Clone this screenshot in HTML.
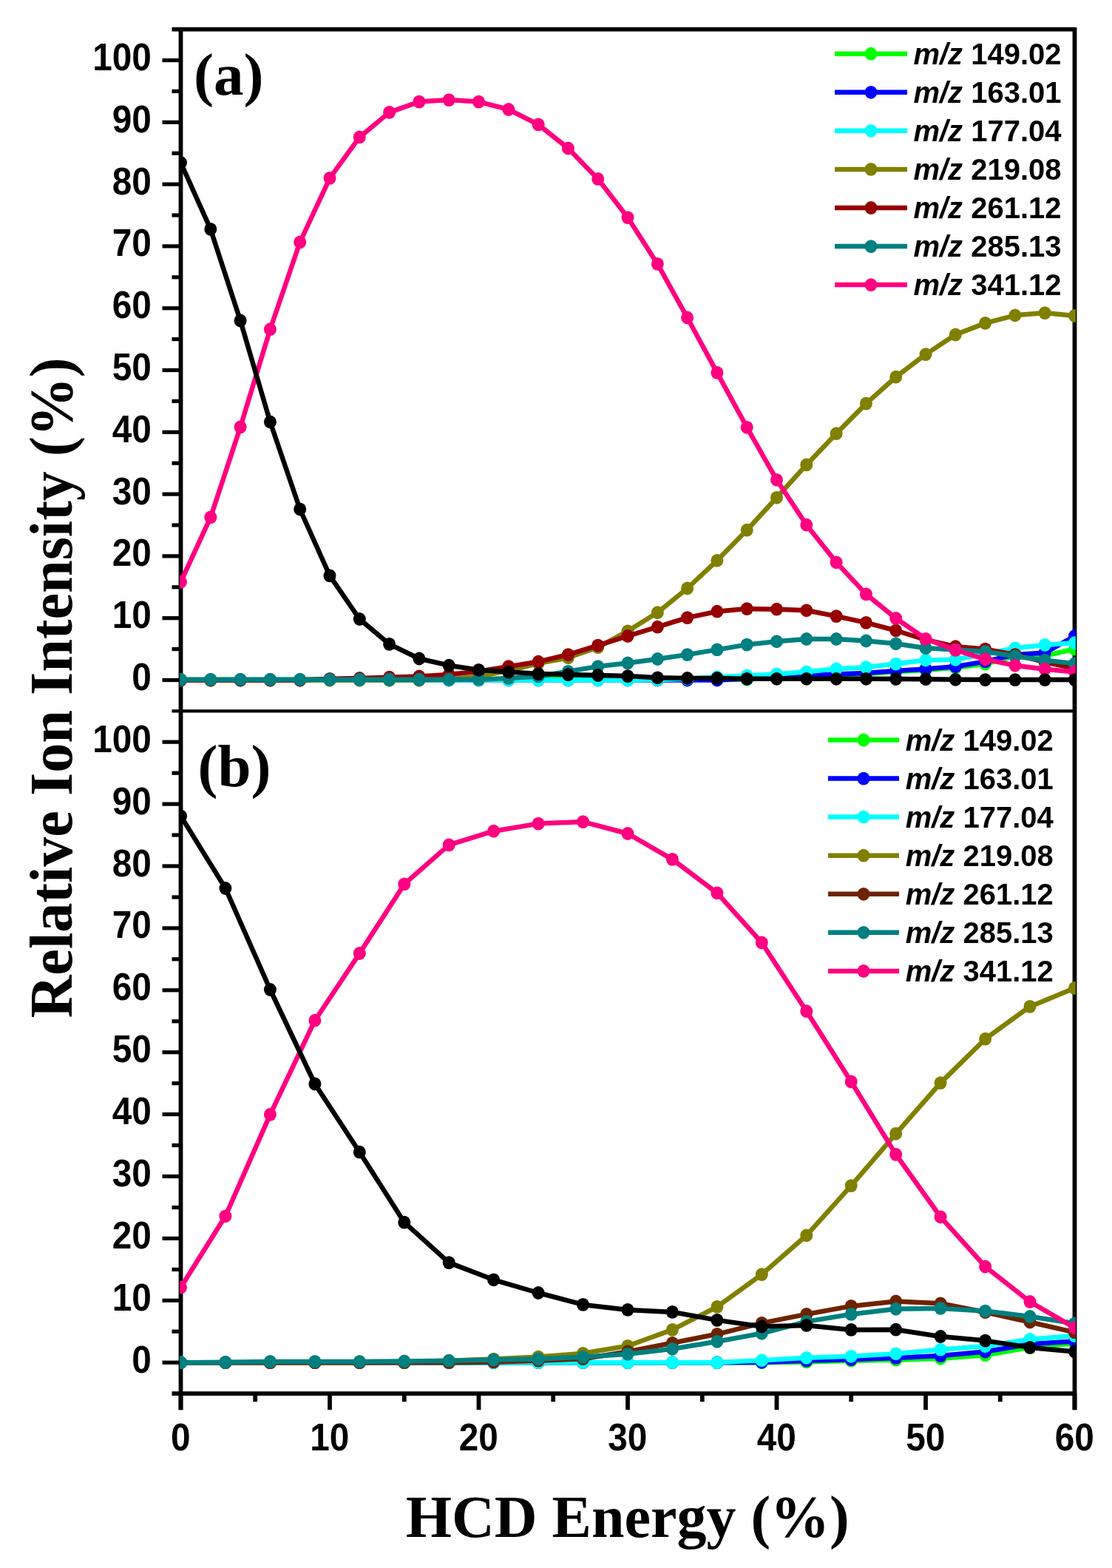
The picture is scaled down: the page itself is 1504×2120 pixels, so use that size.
<!DOCTYPE html>
<html><head><meta charset="utf-8"><title>HCD Energy</title>
<style>html,body{margin:0;padding:0;background:#fff;overflow:hidden}svg{display:block}</style></head>
<body>
<svg width="1504" height="2120" viewBox="0 0 1504 2120">
<rect width="1504" height="2120" fill="#fff"/>
<defs><clipPath id="ca"><rect x="243.1" y="38.2" width="1211.8" height="923.2"/></clipPath><clipPath id="cb"><rect x="243.1" y="961.4" width="1211.8" height="924.2"/></clipPath></defs>
<line x1="244.5" y1="37.1" x2="244.5" y2="1906.2" stroke="#000" stroke-width="5.8"/>
<line x1="1453.5" y1="37.1" x2="1453.5" y2="1906.2" stroke="#000" stroke-width="5.8"/>
<line x1="232.5" y1="39.6" x2="1453.5" y2="39.6" stroke="#000" stroke-width="5.8"/>
<line x1="232.5" y1="961.4" x2="1453.5" y2="961.4" stroke="#000" stroke-width="4.2"/>
<line x1="232.5" y1="1884.2" x2="1453.5" y2="1884.2" stroke="#000" stroke-width="5.8"/>
<line x1="219.5" y1="919.5" x2="244.5" y2="919.5" stroke="#000" stroke-width="5.2"/>
<line x1="232.5" y1="877.6" x2="244.5" y2="877.6" stroke="#000" stroke-width="5.2"/>
<line x1="219.5" y1="835.7" x2="244.5" y2="835.7" stroke="#000" stroke-width="5.2"/>
<line x1="232.5" y1="793.8" x2="244.5" y2="793.8" stroke="#000" stroke-width="5.2"/>
<line x1="219.5" y1="751.9" x2="244.5" y2="751.9" stroke="#000" stroke-width="5.2"/>
<line x1="232.5" y1="710" x2="244.5" y2="710" stroke="#000" stroke-width="5.2"/>
<line x1="219.5" y1="668.1" x2="244.5" y2="668.1" stroke="#000" stroke-width="5.2"/>
<line x1="232.5" y1="626.2" x2="244.5" y2="626.2" stroke="#000" stroke-width="5.2"/>
<line x1="219.5" y1="584.3" x2="244.5" y2="584.3" stroke="#000" stroke-width="5.2"/>
<line x1="232.5" y1="542.4" x2="244.5" y2="542.4" stroke="#000" stroke-width="5.2"/>
<line x1="219.5" y1="500.5" x2="244.5" y2="500.5" stroke="#000" stroke-width="5.2"/>
<line x1="232.5" y1="458.6" x2="244.5" y2="458.6" stroke="#000" stroke-width="5.2"/>
<line x1="219.5" y1="416.7" x2="244.5" y2="416.7" stroke="#000" stroke-width="5.2"/>
<line x1="232.5" y1="374.8" x2="244.5" y2="374.8" stroke="#000" stroke-width="5.2"/>
<line x1="219.5" y1="332.9" x2="244.5" y2="332.9" stroke="#000" stroke-width="5.2"/>
<line x1="232.5" y1="291" x2="244.5" y2="291" stroke="#000" stroke-width="5.2"/>
<line x1="219.5" y1="249.1" x2="244.5" y2="249.1" stroke="#000" stroke-width="5.2"/>
<line x1="232.5" y1="207.2" x2="244.5" y2="207.2" stroke="#000" stroke-width="5.2"/>
<line x1="219.5" y1="165.3" x2="244.5" y2="165.3" stroke="#000" stroke-width="5.2"/>
<line x1="232.5" y1="123.4" x2="244.5" y2="123.4" stroke="#000" stroke-width="5.2"/>
<line x1="219.5" y1="81.5" x2="244.5" y2="81.5" stroke="#000" stroke-width="5.2"/>
<line x1="219.5" y1="1842.2" x2="244.5" y2="1842.2" stroke="#000" stroke-width="5.2"/>
<line x1="232.5" y1="1800.2" x2="244.5" y2="1800.2" stroke="#000" stroke-width="5.2"/>
<line x1="219.5" y1="1758.3" x2="244.5" y2="1758.3" stroke="#000" stroke-width="5.2"/>
<line x1="232.5" y1="1716.4" x2="244.5" y2="1716.4" stroke="#000" stroke-width="5.2"/>
<line x1="219.5" y1="1674.4" x2="244.5" y2="1674.4" stroke="#000" stroke-width="5.2"/>
<line x1="232.5" y1="1632.5" x2="244.5" y2="1632.5" stroke="#000" stroke-width="5.2"/>
<line x1="219.5" y1="1590.5" x2="244.5" y2="1590.5" stroke="#000" stroke-width="5.2"/>
<line x1="232.5" y1="1548.5" x2="244.5" y2="1548.5" stroke="#000" stroke-width="5.2"/>
<line x1="219.5" y1="1506.6" x2="244.5" y2="1506.6" stroke="#000" stroke-width="5.2"/>
<line x1="232.5" y1="1464.7" x2="244.5" y2="1464.7" stroke="#000" stroke-width="5.2"/>
<line x1="219.5" y1="1422.7" x2="244.5" y2="1422.7" stroke="#000" stroke-width="5.2"/>
<line x1="232.5" y1="1380.8" x2="244.5" y2="1380.8" stroke="#000" stroke-width="5.2"/>
<line x1="219.5" y1="1338.8" x2="244.5" y2="1338.8" stroke="#000" stroke-width="5.2"/>
<line x1="232.5" y1="1296.8" x2="244.5" y2="1296.8" stroke="#000" stroke-width="5.2"/>
<line x1="219.5" y1="1254.9" x2="244.5" y2="1254.9" stroke="#000" stroke-width="5.2"/>
<line x1="232.5" y1="1213" x2="244.5" y2="1213" stroke="#000" stroke-width="5.2"/>
<line x1="219.5" y1="1171" x2="244.5" y2="1171" stroke="#000" stroke-width="5.2"/>
<line x1="232.5" y1="1129" x2="244.5" y2="1129" stroke="#000" stroke-width="5.2"/>
<line x1="219.5" y1="1087.1" x2="244.5" y2="1087.1" stroke="#000" stroke-width="5.2"/>
<line x1="232.5" y1="1045.2" x2="244.5" y2="1045.2" stroke="#000" stroke-width="5.2"/>
<line x1="219.5" y1="1003.2" x2="244.5" y2="1003.2" stroke="#000" stroke-width="5.2"/>
<line x1="244.5" y1="1884.2" x2="244.5" y2="1906.2" stroke="#000" stroke-width="5.8"/>
<line x1="345.2" y1="1884.2" x2="345.2" y2="1895.2" stroke="#000" stroke-width="5.8"/>
<line x1="446" y1="1884.2" x2="446" y2="1906.2" stroke="#000" stroke-width="5.8"/>
<line x1="546.8" y1="1884.2" x2="546.8" y2="1895.2" stroke="#000" stroke-width="5.8"/>
<line x1="647.5" y1="1884.2" x2="647.5" y2="1906.2" stroke="#000" stroke-width="5.8"/>
<line x1="748.2" y1="1884.2" x2="748.2" y2="1895.2" stroke="#000" stroke-width="5.8"/>
<line x1="849" y1="1884.2" x2="849" y2="1906.2" stroke="#000" stroke-width="5.8"/>
<line x1="949.8" y1="1884.2" x2="949.8" y2="1895.2" stroke="#000" stroke-width="5.8"/>
<line x1="1050.5" y1="1884.2" x2="1050.5" y2="1906.2" stroke="#000" stroke-width="5.8"/>
<line x1="1151.2" y1="1884.2" x2="1151.2" y2="1895.2" stroke="#000" stroke-width="5.8"/>
<line x1="1252" y1="1884.2" x2="1252" y2="1906.2" stroke="#000" stroke-width="5.8"/>
<line x1="1352.8" y1="1884.2" x2="1352.8" y2="1895.2" stroke="#000" stroke-width="5.8"/>
<line x1="1453.5" y1="1884.2" x2="1453.5" y2="1906.2" stroke="#000" stroke-width="5.8"/>
<g clip-path="url(#ca)">
<path d="M244.5,919.1 L284.8,919.1 L325.1,919.1 L365.4,919.1 L405.7,919.1 L446,919.1 L486.3,919.1 L526.6,919.1 L566.9,919.1 L607.2,919.1 L647.5,919.1 L687.8,919.1 L728.1,917.8 L768.4,917.8 L808.7,917.8 L849,917.8 L889.3,917.8 L929.6,917.8 L969.9,917.8 L1010.2,918.7 L1050.5,915.7 L1090.8,914.5 L1131.1,912.8 L1171.4,911.1 L1211.7,908.2 L1252,906.1 L1292.3,902.7 L1332.6,897.7 L1372.9,887.2 L1413.2,886.5 L1453.5,877.6" fill="none" stroke="#00FF00" stroke-width="6.5" stroke-linejoin="round"/>
<g fill="#00FF00"><ellipse cx="244.5" cy="919.1" rx="8.5" ry="8.9"/><ellipse cx="284.8" cy="919.1" rx="8.5" ry="8.9"/><ellipse cx="325.1" cy="919.1" rx="8.5" ry="8.9"/><ellipse cx="365.4" cy="919.1" rx="8.5" ry="8.9"/><ellipse cx="405.7" cy="919.1" rx="8.5" ry="8.9"/><ellipse cx="446" cy="919.1" rx="8.5" ry="8.9"/><ellipse cx="486.3" cy="919.1" rx="8.5" ry="8.9"/><ellipse cx="526.6" cy="919.1" rx="8.5" ry="8.9"/><ellipse cx="566.9" cy="919.1" rx="8.5" ry="8.9"/><ellipse cx="607.2" cy="919.1" rx="8.5" ry="8.9"/><ellipse cx="647.5" cy="919.1" rx="8.5" ry="8.9"/><ellipse cx="687.8" cy="919.1" rx="8.5" ry="8.9"/><ellipse cx="728.1" cy="917.8" rx="8.5" ry="8.9"/><ellipse cx="768.4" cy="917.8" rx="8.5" ry="8.9"/><ellipse cx="808.7" cy="917.8" rx="8.5" ry="8.9"/><ellipse cx="849" cy="917.8" rx="8.5" ry="8.9"/><ellipse cx="889.3" cy="917.8" rx="8.5" ry="8.9"/><ellipse cx="929.6" cy="917.8" rx="8.5" ry="8.9"/><ellipse cx="969.9" cy="917.8" rx="8.5" ry="8.9"/><ellipse cx="1010.2" cy="918.7" rx="8.5" ry="8.9"/><ellipse cx="1050.5" cy="915.7" rx="8.5" ry="8.9"/><ellipse cx="1090.8" cy="914.5" rx="8.5" ry="8.9"/><ellipse cx="1131.1" cy="912.8" rx="8.5" ry="8.9"/><ellipse cx="1171.4" cy="911.1" rx="8.5" ry="8.9"/><ellipse cx="1211.7" cy="908.2" rx="8.5" ry="8.9"/><ellipse cx="1252" cy="906.1" rx="8.5" ry="8.9"/><ellipse cx="1292.3" cy="902.7" rx="8.5" ry="8.9"/><ellipse cx="1332.6" cy="897.7" rx="8.5" ry="8.9"/><ellipse cx="1372.9" cy="887.2" rx="8.5" ry="8.9"/><ellipse cx="1413.2" cy="886.5" rx="8.5" ry="8.9"/><ellipse cx="1453.5" cy="877.6" rx="8.5" ry="8.9"/></g>
<path d="M244.5,919.5 L284.8,919.5 L325.1,919.5 L365.4,919.5 L405.7,919.5 L446,919.5 L486.3,919.5 L526.6,919.5 L566.9,919.5 L607.2,919.5 L647.5,919.5 L687.8,919.5 L728.1,919.5 L768.4,919.5 L808.7,919.5 L849,919.5 L889.3,919.5 L929.6,919.5 L969.9,919.5 L1010.2,917.8 L1050.5,914.5 L1090.8,913.2 L1131.1,911.5 L1171.4,909.9 L1211.7,906.9 L1252,904.4 L1292.3,901.2 L1332.6,894.4 L1372.9,885.2 L1413.2,882.6 L1453.5,860" fill="none" stroke="#0000FF" stroke-width="6.5" stroke-linejoin="round"/>
<g fill="#0000FF"><ellipse cx="244.5" cy="919.5" rx="8.5" ry="8.9"/><ellipse cx="284.8" cy="919.5" rx="8.5" ry="8.9"/><ellipse cx="325.1" cy="919.5" rx="8.5" ry="8.9"/><ellipse cx="365.4" cy="919.5" rx="8.5" ry="8.9"/><ellipse cx="405.7" cy="919.5" rx="8.5" ry="8.9"/><ellipse cx="446" cy="919.5" rx="8.5" ry="8.9"/><ellipse cx="486.3" cy="919.5" rx="8.5" ry="8.9"/><ellipse cx="526.6" cy="919.5" rx="8.5" ry="8.9"/><ellipse cx="566.9" cy="919.5" rx="8.5" ry="8.9"/><ellipse cx="607.2" cy="919.5" rx="8.5" ry="8.9"/><ellipse cx="647.5" cy="919.5" rx="8.5" ry="8.9"/><ellipse cx="687.8" cy="919.5" rx="8.5" ry="8.9"/><ellipse cx="728.1" cy="919.5" rx="8.5" ry="8.9"/><ellipse cx="768.4" cy="919.5" rx="8.5" ry="8.9"/><ellipse cx="808.7" cy="919.5" rx="8.5" ry="8.9"/><ellipse cx="849" cy="919.5" rx="8.5" ry="8.9"/><ellipse cx="889.3" cy="919.5" rx="8.5" ry="8.9"/><ellipse cx="929.6" cy="919.5" rx="8.5" ry="8.9"/><ellipse cx="969.9" cy="919.5" rx="8.5" ry="8.9"/><ellipse cx="1010.2" cy="917.8" rx="8.5" ry="8.9"/><ellipse cx="1050.5" cy="914.5" rx="8.5" ry="8.9"/><ellipse cx="1090.8" cy="913.2" rx="8.5" ry="8.9"/><ellipse cx="1131.1" cy="911.5" rx="8.5" ry="8.9"/><ellipse cx="1171.4" cy="909.9" rx="8.5" ry="8.9"/><ellipse cx="1211.7" cy="906.9" rx="8.5" ry="8.9"/><ellipse cx="1252" cy="904.4" rx="8.5" ry="8.9"/><ellipse cx="1292.3" cy="901.2" rx="8.5" ry="8.9"/><ellipse cx="1332.6" cy="894.4" rx="8.5" ry="8.9"/><ellipse cx="1372.9" cy="885.2" rx="8.5" ry="8.9"/><ellipse cx="1413.2" cy="882.6" rx="8.5" ry="8.9"/><ellipse cx="1453.5" cy="860" rx="8.5" ry="8.9"/></g>
<path d="M244.5,919.5 L284.8,919.5 L325.1,919.5 L365.4,919.5 L405.7,919.5 L446,919.5 L486.3,919.5 L526.6,919.5 L566.9,919.5 L607.2,919.5 L647.5,919.5 L687.8,919.5 L728.1,919.5 L768.4,919.5 L808.7,919.5 L849,919.5 L889.3,919.1 L929.6,917.8 L969.9,915.3 L1010.2,913.6 L1050.5,911.4 L1090.8,908.3 L1131.1,904.3 L1171.4,902.2 L1211.7,897.6 L1252,892.5 L1292.3,891.8 L1332.6,884.3 L1372.9,876.3 L1413.2,871.9 L1453.5,869.2" fill="none" stroke="#00FFFF" stroke-width="6.5" stroke-linejoin="round"/>
<g fill="#00FFFF"><ellipse cx="244.5" cy="919.5" rx="8.5" ry="8.9"/><ellipse cx="284.8" cy="919.5" rx="8.5" ry="8.9"/><ellipse cx="325.1" cy="919.5" rx="8.5" ry="8.9"/><ellipse cx="365.4" cy="919.5" rx="8.5" ry="8.9"/><ellipse cx="405.7" cy="919.5" rx="8.5" ry="8.9"/><ellipse cx="446" cy="919.5" rx="8.5" ry="8.9"/><ellipse cx="486.3" cy="919.5" rx="8.5" ry="8.9"/><ellipse cx="526.6" cy="919.5" rx="8.5" ry="8.9"/><ellipse cx="566.9" cy="919.5" rx="8.5" ry="8.9"/><ellipse cx="607.2" cy="919.5" rx="8.5" ry="8.9"/><ellipse cx="647.5" cy="919.5" rx="8.5" ry="8.9"/><ellipse cx="687.8" cy="919.5" rx="8.5" ry="8.9"/><ellipse cx="728.1" cy="919.5" rx="8.5" ry="8.9"/><ellipse cx="768.4" cy="919.5" rx="8.5" ry="8.9"/><ellipse cx="808.7" cy="919.5" rx="8.5" ry="8.9"/><ellipse cx="849" cy="919.5" rx="8.5" ry="8.9"/><ellipse cx="889.3" cy="919.1" rx="8.5" ry="8.9"/><ellipse cx="929.6" cy="917.8" rx="8.5" ry="8.9"/><ellipse cx="969.9" cy="915.3" rx="8.5" ry="8.9"/><ellipse cx="1010.2" cy="913.6" rx="8.5" ry="8.9"/><ellipse cx="1050.5" cy="911.4" rx="8.5" ry="8.9"/><ellipse cx="1090.8" cy="908.3" rx="8.5" ry="8.9"/><ellipse cx="1131.1" cy="904.3" rx="8.5" ry="8.9"/><ellipse cx="1171.4" cy="902.2" rx="8.5" ry="8.9"/><ellipse cx="1211.7" cy="897.6" rx="8.5" ry="8.9"/><ellipse cx="1252" cy="892.5" rx="8.5" ry="8.9"/><ellipse cx="1292.3" cy="891.8" rx="8.5" ry="8.9"/><ellipse cx="1332.6" cy="884.3" rx="8.5" ry="8.9"/><ellipse cx="1372.9" cy="876.3" rx="8.5" ry="8.9"/><ellipse cx="1413.2" cy="871.9" rx="8.5" ry="8.9"/><ellipse cx="1453.5" cy="869.2" rx="8.5" ry="8.9"/></g>
<path d="M244.5,919.5 L284.8,919.5 L325.1,919.5 L365.4,919.5 L405.7,919.5 L446,919.5 L486.3,919.5 L526.6,919.5 L566.9,919.5 L607.2,918.7 L647.5,914.5 L687.8,906.9 L728.1,896.9 L768.4,889.3 L808.7,875.1 L849,853.3 L889.3,828.2 L929.6,795.5 L969.9,757.8 L1010.2,716.7 L1050.5,672.8 L1090.8,628.4 L1131.1,586.2 L1171.4,545.6 L1211.7,509.7 L1252,479.1 L1292.3,452.5 L1332.6,436.9 L1372.9,426.3 L1413.2,423.1 L1453.5,426.9" fill="none" stroke="#808000" stroke-width="6.5" stroke-linejoin="round"/>
<g fill="#808000"><ellipse cx="244.5" cy="919.5" rx="8.5" ry="8.9"/><ellipse cx="284.8" cy="919.5" rx="8.5" ry="8.9"/><ellipse cx="325.1" cy="919.5" rx="8.5" ry="8.9"/><ellipse cx="365.4" cy="919.5" rx="8.5" ry="8.9"/><ellipse cx="405.7" cy="919.5" rx="8.5" ry="8.9"/><ellipse cx="446" cy="919.5" rx="8.5" ry="8.9"/><ellipse cx="486.3" cy="919.5" rx="8.5" ry="8.9"/><ellipse cx="526.6" cy="919.5" rx="8.5" ry="8.9"/><ellipse cx="566.9" cy="919.5" rx="8.5" ry="8.9"/><ellipse cx="607.2" cy="918.7" rx="8.5" ry="8.9"/><ellipse cx="647.5" cy="914.5" rx="8.5" ry="8.9"/><ellipse cx="687.8" cy="906.9" rx="8.5" ry="8.9"/><ellipse cx="728.1" cy="896.9" rx="8.5" ry="8.9"/><ellipse cx="768.4" cy="889.3" rx="8.5" ry="8.9"/><ellipse cx="808.7" cy="875.1" rx="8.5" ry="8.9"/><ellipse cx="849" cy="853.3" rx="8.5" ry="8.9"/><ellipse cx="889.3" cy="828.2" rx="8.5" ry="8.9"/><ellipse cx="929.6" cy="795.5" rx="8.5" ry="8.9"/><ellipse cx="969.9" cy="757.8" rx="8.5" ry="8.9"/><ellipse cx="1010.2" cy="716.7" rx="8.5" ry="8.9"/><ellipse cx="1050.5" cy="672.8" rx="8.5" ry="8.9"/><ellipse cx="1090.8" cy="628.4" rx="8.5" ry="8.9"/><ellipse cx="1131.1" cy="586.2" rx="8.5" ry="8.9"/><ellipse cx="1171.4" cy="545.6" rx="8.5" ry="8.9"/><ellipse cx="1211.7" cy="509.7" rx="8.5" ry="8.9"/><ellipse cx="1252" cy="479.1" rx="8.5" ry="8.9"/><ellipse cx="1292.3" cy="452.5" rx="8.5" ry="8.9"/><ellipse cx="1332.6" cy="436.9" rx="8.5" ry="8.9"/><ellipse cx="1372.9" cy="426.3" rx="8.5" ry="8.9"/><ellipse cx="1413.2" cy="423.1" rx="8.5" ry="8.9"/><ellipse cx="1453.5" cy="426.9" rx="8.5" ry="8.9"/></g>
<path d="M244.5,919.5 L284.8,919.5 L325.1,919.5 L365.4,919.5 L405.7,919.5 L446,917.8 L486.3,917 L526.6,915.7 L566.9,914.5 L607.2,912 L647.5,907.8 L687.8,901.1 L728.1,894.7 L768.4,885.1 L808.7,872.6 L849,860 L889.3,847.7 L929.6,835.1 L969.9,826.7 L1010.2,823.1 L1050.5,823.7 L1090.8,825.3 L1131.1,833.1 L1171.4,841.9 L1211.7,852.5 L1252,865 L1292.3,874.2 L1332.6,877.6 L1372.9,885.1 L1413.2,895.2 L1453.5,903.6" fill="none" stroke="#960000" stroke-width="6.5" stroke-linejoin="round"/>
<g fill="#960000"><ellipse cx="244.5" cy="919.5" rx="8.5" ry="8.9"/><ellipse cx="284.8" cy="919.5" rx="8.5" ry="8.9"/><ellipse cx="325.1" cy="919.5" rx="8.5" ry="8.9"/><ellipse cx="365.4" cy="919.5" rx="8.5" ry="8.9"/><ellipse cx="405.7" cy="919.5" rx="8.5" ry="8.9"/><ellipse cx="446" cy="917.8" rx="8.5" ry="8.9"/><ellipse cx="486.3" cy="917" rx="8.5" ry="8.9"/><ellipse cx="526.6" cy="915.7" rx="8.5" ry="8.9"/><ellipse cx="566.9" cy="914.5" rx="8.5" ry="8.9"/><ellipse cx="607.2" cy="912" rx="8.5" ry="8.9"/><ellipse cx="647.5" cy="907.8" rx="8.5" ry="8.9"/><ellipse cx="687.8" cy="901.1" rx="8.5" ry="8.9"/><ellipse cx="728.1" cy="894.7" rx="8.5" ry="8.9"/><ellipse cx="768.4" cy="885.1" rx="8.5" ry="8.9"/><ellipse cx="808.7" cy="872.6" rx="8.5" ry="8.9"/><ellipse cx="849" cy="860" rx="8.5" ry="8.9"/><ellipse cx="889.3" cy="847.7" rx="8.5" ry="8.9"/><ellipse cx="929.6" cy="835.1" rx="8.5" ry="8.9"/><ellipse cx="969.9" cy="826.7" rx="8.5" ry="8.9"/><ellipse cx="1010.2" cy="823.1" rx="8.5" ry="8.9"/><ellipse cx="1050.5" cy="823.7" rx="8.5" ry="8.9"/><ellipse cx="1090.8" cy="825.3" rx="8.5" ry="8.9"/><ellipse cx="1131.1" cy="833.1" rx="8.5" ry="8.9"/><ellipse cx="1171.4" cy="841.9" rx="8.5" ry="8.9"/><ellipse cx="1211.7" cy="852.5" rx="8.5" ry="8.9"/><ellipse cx="1252" cy="865" rx="8.5" ry="8.9"/><ellipse cx="1292.3" cy="874.2" rx="8.5" ry="8.9"/><ellipse cx="1332.6" cy="877.6" rx="8.5" ry="8.9"/><ellipse cx="1372.9" cy="885.1" rx="8.5" ry="8.9"/><ellipse cx="1413.2" cy="895.2" rx="8.5" ry="8.9"/><ellipse cx="1453.5" cy="903.6" rx="8.5" ry="8.9"/></g>
<path d="M244.5,918.7 L284.8,918.7 L325.1,918.7 L365.4,918.7 L405.7,918.7 L446,918.7 L486.3,918.7 L526.6,918.7 L566.9,918.7 L607.2,918.7 L647.5,918.7 L687.8,917 L728.1,914.5 L768.4,907.8 L808.7,901.1 L849,896.5 L889.3,891 L929.6,885.1 L969.9,878.4 L1010.2,871.6 L1050.5,867.3 L1090.8,864 L1131.1,864 L1171.4,866.5 L1211.7,870.3 L1252,876.3 L1292.3,878.4 L1332.6,881 L1372.9,887.2 L1413.2,892.7 L1453.5,897.2" fill="none" stroke="#008080" stroke-width="6.5" stroke-linejoin="round"/>
<g fill="#008080"><ellipse cx="244.5" cy="918.7" rx="8.5" ry="8.9"/><ellipse cx="284.8" cy="918.7" rx="8.5" ry="8.9"/><ellipse cx="325.1" cy="918.7" rx="8.5" ry="8.9"/><ellipse cx="365.4" cy="918.7" rx="8.5" ry="8.9"/><ellipse cx="405.7" cy="918.7" rx="8.5" ry="8.9"/><ellipse cx="446" cy="918.7" rx="8.5" ry="8.9"/><ellipse cx="486.3" cy="918.7" rx="8.5" ry="8.9"/><ellipse cx="526.6" cy="918.7" rx="8.5" ry="8.9"/><ellipse cx="566.9" cy="918.7" rx="8.5" ry="8.9"/><ellipse cx="607.2" cy="918.7" rx="8.5" ry="8.9"/><ellipse cx="647.5" cy="918.7" rx="8.5" ry="8.9"/><ellipse cx="687.8" cy="917" rx="8.5" ry="8.9"/><ellipse cx="728.1" cy="914.5" rx="8.5" ry="8.9"/><ellipse cx="768.4" cy="907.8" rx="8.5" ry="8.9"/><ellipse cx="808.7" cy="901.1" rx="8.5" ry="8.9"/><ellipse cx="849" cy="896.5" rx="8.5" ry="8.9"/><ellipse cx="889.3" cy="891" rx="8.5" ry="8.9"/><ellipse cx="929.6" cy="885.1" rx="8.5" ry="8.9"/><ellipse cx="969.9" cy="878.4" rx="8.5" ry="8.9"/><ellipse cx="1010.2" cy="871.6" rx="8.5" ry="8.9"/><ellipse cx="1050.5" cy="867.3" rx="8.5" ry="8.9"/><ellipse cx="1090.8" cy="864" rx="8.5" ry="8.9"/><ellipse cx="1131.1" cy="864" rx="8.5" ry="8.9"/><ellipse cx="1171.4" cy="866.5" rx="8.5" ry="8.9"/><ellipse cx="1211.7" cy="870.3" rx="8.5" ry="8.9"/><ellipse cx="1252" cy="876.3" rx="8.5" ry="8.9"/><ellipse cx="1292.3" cy="878.4" rx="8.5" ry="8.9"/><ellipse cx="1332.6" cy="881" rx="8.5" ry="8.9"/><ellipse cx="1372.9" cy="887.2" rx="8.5" ry="8.9"/><ellipse cx="1413.2" cy="892.7" rx="8.5" ry="8.9"/><ellipse cx="1453.5" cy="897.2" rx="8.5" ry="8.9"/></g>
<path d="M244.5,786.8 L284.8,699.4 L325.1,577.4 L365.4,445.2 L405.7,327.5 L446,240.9 L486.3,185.4 L526.6,151.9 L566.9,137.6 L607.2,135.1 L647.5,137.6 L687.8,148 L728.1,168.4 L768.4,200.5 L808.7,241.9 L849,294.1 L889.3,356.9 L929.6,429.5 L969.9,503.9 L1010.2,577.8 L1050.5,648.8 L1090.8,709.7 L1131.1,760.3 L1171.4,803.4 L1211.7,836 L1252,863.8 L1292.3,878.9 L1332.6,891.4 L1372.9,899.8 L1413.2,904.7 L1453.5,908.4" fill="none" stroke="#FF0080" stroke-width="6.5" stroke-linejoin="round"/>
<g fill="#FF0080"><ellipse cx="244.5" cy="786.8" rx="8.5" ry="8.9"/><ellipse cx="284.8" cy="699.4" rx="8.5" ry="8.9"/><ellipse cx="325.1" cy="577.4" rx="8.5" ry="8.9"/><ellipse cx="365.4" cy="445.2" rx="8.5" ry="8.9"/><ellipse cx="405.7" cy="327.5" rx="8.5" ry="8.9"/><ellipse cx="446" cy="240.9" rx="8.5" ry="8.9"/><ellipse cx="486.3" cy="185.4" rx="8.5" ry="8.9"/><ellipse cx="526.6" cy="151.9" rx="8.5" ry="8.9"/><ellipse cx="566.9" cy="137.6" rx="8.5" ry="8.9"/><ellipse cx="607.2" cy="135.1" rx="8.5" ry="8.9"/><ellipse cx="647.5" cy="137.6" rx="8.5" ry="8.9"/><ellipse cx="687.8" cy="148" rx="8.5" ry="8.9"/><ellipse cx="728.1" cy="168.4" rx="8.5" ry="8.9"/><ellipse cx="768.4" cy="200.5" rx="8.5" ry="8.9"/><ellipse cx="808.7" cy="241.9" rx="8.5" ry="8.9"/><ellipse cx="849" cy="294.1" rx="8.5" ry="8.9"/><ellipse cx="889.3" cy="356.9" rx="8.5" ry="8.9"/><ellipse cx="929.6" cy="429.5" rx="8.5" ry="8.9"/><ellipse cx="969.9" cy="503.9" rx="8.5" ry="8.9"/><ellipse cx="1010.2" cy="577.8" rx="8.5" ry="8.9"/><ellipse cx="1050.5" cy="648.8" rx="8.5" ry="8.9"/><ellipse cx="1090.8" cy="709.7" rx="8.5" ry="8.9"/><ellipse cx="1131.1" cy="760.3" rx="8.5" ry="8.9"/><ellipse cx="1171.4" cy="803.4" rx="8.5" ry="8.9"/><ellipse cx="1211.7" cy="836" rx="8.5" ry="8.9"/><ellipse cx="1252" cy="863.8" rx="8.5" ry="8.9"/><ellipse cx="1292.3" cy="878.9" rx="8.5" ry="8.9"/><ellipse cx="1332.6" cy="891.4" rx="8.5" ry="8.9"/><ellipse cx="1372.9" cy="899.8" rx="8.5" ry="8.9"/><ellipse cx="1413.2" cy="904.7" rx="8.5" ry="8.9"/><ellipse cx="1453.5" cy="908.4" rx="8.5" ry="8.9"/></g>
<path d="M244.5,220 L284.8,309.9 L325.1,433.5 L365.4,570.5 L405.7,688.5 L446,778.4 L486.3,837 L526.6,870.9 L566.9,890.5 L607.2,899.7 L647.5,905.8 L687.8,908.6 L728.1,911.1 L768.4,912.1 L808.7,913 L849,914.1 L889.3,916.3 L929.6,917 L969.9,917 L1010.2,917.8 L1050.5,917.8 L1090.8,917.8 L1131.1,917.8 L1171.4,917.8 L1211.7,918 L1252,918.2 L1292.3,918.8 L1332.6,919.1 L1372.9,919.1 L1413.2,919.1 L1453.5,919.1" fill="none" stroke="#000000" stroke-width="6.5" stroke-linejoin="round"/>
<g fill="#000000"><ellipse cx="244.5" cy="220" rx="8.5" ry="8.9"/><ellipse cx="284.8" cy="309.9" rx="8.5" ry="8.9"/><ellipse cx="325.1" cy="433.5" rx="8.5" ry="8.9"/><ellipse cx="365.4" cy="570.5" rx="8.5" ry="8.9"/><ellipse cx="405.7" cy="688.5" rx="8.5" ry="8.9"/><ellipse cx="446" cy="778.4" rx="8.5" ry="8.9"/><ellipse cx="486.3" cy="837" rx="8.5" ry="8.9"/><ellipse cx="526.6" cy="870.9" rx="8.5" ry="8.9"/><ellipse cx="566.9" cy="890.5" rx="8.5" ry="8.9"/><ellipse cx="607.2" cy="899.7" rx="8.5" ry="8.9"/><ellipse cx="647.5" cy="905.8" rx="8.5" ry="8.9"/><ellipse cx="687.8" cy="908.6" rx="8.5" ry="8.9"/><ellipse cx="728.1" cy="911.1" rx="8.5" ry="8.9"/><ellipse cx="768.4" cy="912.1" rx="8.5" ry="8.9"/><ellipse cx="808.7" cy="913" rx="8.5" ry="8.9"/><ellipse cx="849" cy="914.1" rx="8.5" ry="8.9"/><ellipse cx="889.3" cy="916.3" rx="8.5" ry="8.9"/><ellipse cx="929.6" cy="917" rx="8.5" ry="8.9"/><ellipse cx="969.9" cy="917" rx="8.5" ry="8.9"/><ellipse cx="1010.2" cy="917.8" rx="8.5" ry="8.9"/><ellipse cx="1050.5" cy="917.8" rx="8.5" ry="8.9"/><ellipse cx="1090.8" cy="917.8" rx="8.5" ry="8.9"/><ellipse cx="1131.1" cy="917.8" rx="8.5" ry="8.9"/><ellipse cx="1171.4" cy="917.8" rx="8.5" ry="8.9"/><ellipse cx="1211.7" cy="918" rx="8.5" ry="8.9"/><ellipse cx="1252" cy="918.2" rx="8.5" ry="8.9"/><ellipse cx="1292.3" cy="918.8" rx="8.5" ry="8.9"/><ellipse cx="1332.6" cy="919.1" rx="8.5" ry="8.9"/><ellipse cx="1372.9" cy="919.1" rx="8.5" ry="8.9"/><ellipse cx="1413.2" cy="919.1" rx="8.5" ry="8.9"/><ellipse cx="1453.5" cy="919.1" rx="8.5" ry="8.9"/></g>
</g>
<g clip-path="url(#cb)">
<path d="M244.5,1842.2 L304.9,1842.2 L365.4,1842.2 L425.9,1842.2 L486.3,1842.2 L546.8,1842.2 L607.2,1842.2 L667.6,1842.2 L728.1,1842.2 L788.5,1842.2 L849,1842.2 L909.4,1842.2 L969.9,1842.2 L1030.3,1842.2 L1090.8,1841.4 L1151.2,1839.7 L1211.7,1838.7 L1272.1,1836.8 L1332.6,1832.2 L1393,1821.9 L1453.5,1816.3" fill="none" stroke="#00FF00" stroke-width="6.5" stroke-linejoin="round"/>
<g fill="#00FF00"><ellipse cx="244.5" cy="1842.2" rx="8.5" ry="8.9"/><ellipse cx="304.9" cy="1842.2" rx="8.5" ry="8.9"/><ellipse cx="365.4" cy="1842.2" rx="8.5" ry="8.9"/><ellipse cx="425.9" cy="1842.2" rx="8.5" ry="8.9"/><ellipse cx="486.3" cy="1842.2" rx="8.5" ry="8.9"/><ellipse cx="546.8" cy="1842.2" rx="8.5" ry="8.9"/><ellipse cx="607.2" cy="1842.2" rx="8.5" ry="8.9"/><ellipse cx="667.6" cy="1842.2" rx="8.5" ry="8.9"/><ellipse cx="728.1" cy="1842.2" rx="8.5" ry="8.9"/><ellipse cx="788.5" cy="1842.2" rx="8.5" ry="8.9"/><ellipse cx="849" cy="1842.2" rx="8.5" ry="8.9"/><ellipse cx="909.4" cy="1842.2" rx="8.5" ry="8.9"/><ellipse cx="969.9" cy="1842.2" rx="8.5" ry="8.9"/><ellipse cx="1030.3" cy="1842.2" rx="8.5" ry="8.9"/><ellipse cx="1090.8" cy="1841.4" rx="8.5" ry="8.9"/><ellipse cx="1151.2" cy="1839.7" rx="8.5" ry="8.9"/><ellipse cx="1211.7" cy="1838.7" rx="8.5" ry="8.9"/><ellipse cx="1272.1" cy="1836.8" rx="8.5" ry="8.9"/><ellipse cx="1332.6" cy="1832.2" rx="8.5" ry="8.9"/><ellipse cx="1393" cy="1821.9" rx="8.5" ry="8.9"/><ellipse cx="1453.5" cy="1816.3" rx="8.5" ry="8.9"/></g>
<path d="M244.5,1842.2 L304.9,1842.2 L365.4,1842.2 L425.9,1842.2 L486.3,1842.2 L546.8,1842.2 L607.2,1842.2 L667.6,1842.2 L728.1,1842.2 L788.5,1842.2 L849,1842.2 L909.4,1842.2 L969.9,1842.2 L1030.3,1841.8 L1090.8,1839.7 L1151.2,1838 L1211.7,1835.9 L1272.1,1833.1 L1332.6,1827.5 L1393,1817.3 L1453.5,1813.5" fill="none" stroke="#0000FF" stroke-width="6.5" stroke-linejoin="round"/>
<g fill="#0000FF"><ellipse cx="244.5" cy="1842.2" rx="8.5" ry="8.9"/><ellipse cx="304.9" cy="1842.2" rx="8.5" ry="8.9"/><ellipse cx="365.4" cy="1842.2" rx="8.5" ry="8.9"/><ellipse cx="425.9" cy="1842.2" rx="8.5" ry="8.9"/><ellipse cx="486.3" cy="1842.2" rx="8.5" ry="8.9"/><ellipse cx="546.8" cy="1842.2" rx="8.5" ry="8.9"/><ellipse cx="607.2" cy="1842.2" rx="8.5" ry="8.9"/><ellipse cx="667.6" cy="1842.2" rx="8.5" ry="8.9"/><ellipse cx="728.1" cy="1842.2" rx="8.5" ry="8.9"/><ellipse cx="788.5" cy="1842.2" rx="8.5" ry="8.9"/><ellipse cx="849" cy="1842.2" rx="8.5" ry="8.9"/><ellipse cx="909.4" cy="1842.2" rx="8.5" ry="8.9"/><ellipse cx="969.9" cy="1842.2" rx="8.5" ry="8.9"/><ellipse cx="1030.3" cy="1841.8" rx="8.5" ry="8.9"/><ellipse cx="1090.8" cy="1839.7" rx="8.5" ry="8.9"/><ellipse cx="1151.2" cy="1838" rx="8.5" ry="8.9"/><ellipse cx="1211.7" cy="1835.9" rx="8.5" ry="8.9"/><ellipse cx="1272.1" cy="1833.1" rx="8.5" ry="8.9"/><ellipse cx="1332.6" cy="1827.5" rx="8.5" ry="8.9"/><ellipse cx="1393" cy="1817.3" rx="8.5" ry="8.9"/><ellipse cx="1453.5" cy="1813.5" rx="8.5" ry="8.9"/></g>
<path d="M244.5,1842.2 L304.9,1842.2 L365.4,1842.2 L425.9,1842.2 L486.3,1842.2 L546.8,1842.2 L607.2,1842.2 L667.6,1842.2 L728.1,1842.2 L788.5,1842.2 L849,1842.2 L909.4,1842.2 L969.9,1842.2 L1030.3,1839.2 L1090.8,1835.8 L1151.2,1833.8 L1211.7,1830.3 L1272.1,1824.7 L1332.6,1820.1 L1393,1810.8 L1453.5,1806.1" fill="none" stroke="#00FFFF" stroke-width="6.5" stroke-linejoin="round"/>
<g fill="#00FFFF"><ellipse cx="244.5" cy="1842.2" rx="8.5" ry="8.9"/><ellipse cx="304.9" cy="1842.2" rx="8.5" ry="8.9"/><ellipse cx="365.4" cy="1842.2" rx="8.5" ry="8.9"/><ellipse cx="425.9" cy="1842.2" rx="8.5" ry="8.9"/><ellipse cx="486.3" cy="1842.2" rx="8.5" ry="8.9"/><ellipse cx="546.8" cy="1842.2" rx="8.5" ry="8.9"/><ellipse cx="607.2" cy="1842.2" rx="8.5" ry="8.9"/><ellipse cx="667.6" cy="1842.2" rx="8.5" ry="8.9"/><ellipse cx="728.1" cy="1842.2" rx="8.5" ry="8.9"/><ellipse cx="788.5" cy="1842.2" rx="8.5" ry="8.9"/><ellipse cx="849" cy="1842.2" rx="8.5" ry="8.9"/><ellipse cx="909.4" cy="1842.2" rx="8.5" ry="8.9"/><ellipse cx="969.9" cy="1842.2" rx="8.5" ry="8.9"/><ellipse cx="1030.3" cy="1839.2" rx="8.5" ry="8.9"/><ellipse cx="1090.8" cy="1835.8" rx="8.5" ry="8.9"/><ellipse cx="1151.2" cy="1833.8" rx="8.5" ry="8.9"/><ellipse cx="1211.7" cy="1830.3" rx="8.5" ry="8.9"/><ellipse cx="1272.1" cy="1824.7" rx="8.5" ry="8.9"/><ellipse cx="1332.6" cy="1820.1" rx="8.5" ry="8.9"/><ellipse cx="1393" cy="1810.8" rx="8.5" ry="8.9"/><ellipse cx="1453.5" cy="1806.1" rx="8.5" ry="8.9"/></g>
<path d="M244.5,1842.2 L304.9,1842.2 L365.4,1842.2 L425.9,1842.2 L486.3,1842.2 L546.8,1841.4 L607.2,1839.7 L667.6,1837.6 L728.1,1834.6 L788.5,1829.8 L849,1819.8 L909.4,1797.9 L969.9,1766.9 L1030.3,1723.1 L1090.8,1670.3 L1151.2,1603.1 L1211.7,1532.8 L1272.1,1464.1 L1332.6,1404.7 L1393,1360.9 L1453.5,1335.9" fill="none" stroke="#808000" stroke-width="6.5" stroke-linejoin="round"/>
<g fill="#808000"><ellipse cx="244.5" cy="1842.2" rx="8.5" ry="8.9"/><ellipse cx="304.9" cy="1842.2" rx="8.5" ry="8.9"/><ellipse cx="365.4" cy="1842.2" rx="8.5" ry="8.9"/><ellipse cx="425.9" cy="1842.2" rx="8.5" ry="8.9"/><ellipse cx="486.3" cy="1842.2" rx="8.5" ry="8.9"/><ellipse cx="546.8" cy="1841.4" rx="8.5" ry="8.9"/><ellipse cx="607.2" cy="1839.7" rx="8.5" ry="8.9"/><ellipse cx="667.6" cy="1837.6" rx="8.5" ry="8.9"/><ellipse cx="728.1" cy="1834.6" rx="8.5" ry="8.9"/><ellipse cx="788.5" cy="1829.8" rx="8.5" ry="8.9"/><ellipse cx="849" cy="1819.8" rx="8.5" ry="8.9"/><ellipse cx="909.4" cy="1797.9" rx="8.5" ry="8.9"/><ellipse cx="969.9" cy="1766.9" rx="8.5" ry="8.9"/><ellipse cx="1030.3" cy="1723.1" rx="8.5" ry="8.9"/><ellipse cx="1090.8" cy="1670.3" rx="8.5" ry="8.9"/><ellipse cx="1151.2" cy="1603.1" rx="8.5" ry="8.9"/><ellipse cx="1211.7" cy="1532.8" rx="8.5" ry="8.9"/><ellipse cx="1272.1" cy="1464.1" rx="8.5" ry="8.9"/><ellipse cx="1332.6" cy="1404.7" rx="8.5" ry="8.9"/><ellipse cx="1393" cy="1360.9" rx="8.5" ry="8.9"/><ellipse cx="1453.5" cy="1335.9" rx="8.5" ry="8.9"/></g>
<path d="M244.5,1842.2 L304.9,1842.2 L365.4,1842.2 L425.9,1842.2 L486.3,1842.2 L546.8,1842.2 L607.2,1842.2 L667.6,1841.4 L728.1,1839.7 L788.5,1837.2 L849,1827.5 L909.4,1815.8 L969.9,1803.8 L1030.3,1788.9 L1090.8,1776.9 L1151.2,1765.9 L1211.7,1759.5 L1272.1,1762.3 L1332.6,1774.2 L1393,1787.5 L1453.5,1801.4" fill="none" stroke="#6E2300" stroke-width="6.5" stroke-linejoin="round"/>
<g fill="#6E2300"><ellipse cx="244.5" cy="1842.2" rx="8.5" ry="8.9"/><ellipse cx="304.9" cy="1842.2" rx="8.5" ry="8.9"/><ellipse cx="365.4" cy="1842.2" rx="8.5" ry="8.9"/><ellipse cx="425.9" cy="1842.2" rx="8.5" ry="8.9"/><ellipse cx="486.3" cy="1842.2" rx="8.5" ry="8.9"/><ellipse cx="546.8" cy="1842.2" rx="8.5" ry="8.9"/><ellipse cx="607.2" cy="1842.2" rx="8.5" ry="8.9"/><ellipse cx="667.6" cy="1841.4" rx="8.5" ry="8.9"/><ellipse cx="728.1" cy="1839.7" rx="8.5" ry="8.9"/><ellipse cx="788.5" cy="1837.2" rx="8.5" ry="8.9"/><ellipse cx="849" cy="1827.5" rx="8.5" ry="8.9"/><ellipse cx="909.4" cy="1815.8" rx="8.5" ry="8.9"/><ellipse cx="969.9" cy="1803.8" rx="8.5" ry="8.9"/><ellipse cx="1030.3" cy="1788.9" rx="8.5" ry="8.9"/><ellipse cx="1090.8" cy="1776.9" rx="8.5" ry="8.9"/><ellipse cx="1151.2" cy="1765.9" rx="8.5" ry="8.9"/><ellipse cx="1211.7" cy="1759.5" rx="8.5" ry="8.9"/><ellipse cx="1272.1" cy="1762.3" rx="8.5" ry="8.9"/><ellipse cx="1332.6" cy="1774.2" rx="8.5" ry="8.9"/><ellipse cx="1393" cy="1787.5" rx="8.5" ry="8.9"/><ellipse cx="1453.5" cy="1801.4" rx="8.5" ry="8.9"/></g>
<path d="M244.5,1842.2 L304.9,1841.8 L365.4,1840.9 L425.9,1840.9 L486.3,1840.9 L546.8,1840.5 L607.2,1839.7 L667.6,1838.4 L728.1,1837.4 L788.5,1834.8 L849,1830.8 L909.4,1823.8 L969.9,1813.8 L1030.3,1802.8 L1090.8,1786.9 L1151.2,1776.9 L1211.7,1769.8 L1272.1,1768.9 L1332.6,1772.6 L1393,1780 L1453.5,1789.3" fill="none" stroke="#008080" stroke-width="6.5" stroke-linejoin="round"/>
<g fill="#008080"><ellipse cx="244.5" cy="1842.2" rx="8.5" ry="8.9"/><ellipse cx="304.9" cy="1841.8" rx="8.5" ry="8.9"/><ellipse cx="365.4" cy="1840.9" rx="8.5" ry="8.9"/><ellipse cx="425.9" cy="1840.9" rx="8.5" ry="8.9"/><ellipse cx="486.3" cy="1840.9" rx="8.5" ry="8.9"/><ellipse cx="546.8" cy="1840.5" rx="8.5" ry="8.9"/><ellipse cx="607.2" cy="1839.7" rx="8.5" ry="8.9"/><ellipse cx="667.6" cy="1838.4" rx="8.5" ry="8.9"/><ellipse cx="728.1" cy="1837.4" rx="8.5" ry="8.9"/><ellipse cx="788.5" cy="1834.8" rx="8.5" ry="8.9"/><ellipse cx="849" cy="1830.8" rx="8.5" ry="8.9"/><ellipse cx="909.4" cy="1823.8" rx="8.5" ry="8.9"/><ellipse cx="969.9" cy="1813.8" rx="8.5" ry="8.9"/><ellipse cx="1030.3" cy="1802.8" rx="8.5" ry="8.9"/><ellipse cx="1090.8" cy="1786.9" rx="8.5" ry="8.9"/><ellipse cx="1151.2" cy="1776.9" rx="8.5" ry="8.9"/><ellipse cx="1211.7" cy="1769.8" rx="8.5" ry="8.9"/><ellipse cx="1272.1" cy="1768.9" rx="8.5" ry="8.9"/><ellipse cx="1332.6" cy="1772.6" rx="8.5" ry="8.9"/><ellipse cx="1393" cy="1780" rx="8.5" ry="8.9"/><ellipse cx="1453.5" cy="1789.3" rx="8.5" ry="8.9"/></g>
<path d="M244.5,1740.6 L304.9,1644.3 L365.4,1506.9 L425.9,1379.7 L486.3,1289 L546.8,1195.4 L607.2,1142.4 L667.6,1123.7 L728.1,1113.6 L788.5,1111.1 L849,1127 L909.4,1161.9 L969.9,1207.4 L1030.3,1274.5 L1090.8,1367.2 L1151.2,1462.5 L1211.7,1560.9 L1272.1,1645.3 L1332.6,1712.5 L1393,1760 L1453.5,1795.3" fill="none" stroke="#FF0080" stroke-width="6.5" stroke-linejoin="round"/>
<g fill="#FF0080"><ellipse cx="244.5" cy="1740.6" rx="8.5" ry="8.9"/><ellipse cx="304.9" cy="1644.3" rx="8.5" ry="8.9"/><ellipse cx="365.4" cy="1506.9" rx="8.5" ry="8.9"/><ellipse cx="425.9" cy="1379.7" rx="8.5" ry="8.9"/><ellipse cx="486.3" cy="1289" rx="8.5" ry="8.9"/><ellipse cx="546.8" cy="1195.4" rx="8.5" ry="8.9"/><ellipse cx="607.2" cy="1142.4" rx="8.5" ry="8.9"/><ellipse cx="667.6" cy="1123.7" rx="8.5" ry="8.9"/><ellipse cx="728.1" cy="1113.6" rx="8.5" ry="8.9"/><ellipse cx="788.5" cy="1111.1" rx="8.5" ry="8.9"/><ellipse cx="849" cy="1127" rx="8.5" ry="8.9"/><ellipse cx="909.4" cy="1161.9" rx="8.5" ry="8.9"/><ellipse cx="969.9" cy="1207.4" rx="8.5" ry="8.9"/><ellipse cx="1030.3" cy="1274.5" rx="8.5" ry="8.9"/><ellipse cx="1090.8" cy="1367.2" rx="8.5" ry="8.9"/><ellipse cx="1151.2" cy="1462.5" rx="8.5" ry="8.9"/><ellipse cx="1211.7" cy="1560.9" rx="8.5" ry="8.9"/><ellipse cx="1272.1" cy="1645.3" rx="8.5" ry="8.9"/><ellipse cx="1332.6" cy="1712.5" rx="8.5" ry="8.9"/><ellipse cx="1393" cy="1760" rx="8.5" ry="8.9"/><ellipse cx="1453.5" cy="1795.3" rx="8.5" ry="8.9"/></g>
<path d="M244.5,1103.3 L304.9,1201 L365.4,1338 L425.9,1465.5 L486.3,1557.7 L546.8,1652.7 L607.2,1707.1 L667.6,1730.3 L728.1,1748 L788.5,1763.9 L849,1770.9 L909.4,1773.9 L969.9,1784.9 L1030.3,1793.5 L1090.8,1791.9 L1151.2,1797.9 L1211.7,1797.7 L1272.1,1807 L1332.6,1812.6 L1393,1821.9 L1453.5,1827.5" fill="none" stroke="#000000" stroke-width="6.5" stroke-linejoin="round"/>
<g fill="#000000"><ellipse cx="244.5" cy="1103.3" rx="8.5" ry="8.9"/><ellipse cx="304.9" cy="1201" rx="8.5" ry="8.9"/><ellipse cx="365.4" cy="1338" rx="8.5" ry="8.9"/><ellipse cx="425.9" cy="1465.5" rx="8.5" ry="8.9"/><ellipse cx="486.3" cy="1557.7" rx="8.5" ry="8.9"/><ellipse cx="546.8" cy="1652.7" rx="8.5" ry="8.9"/><ellipse cx="607.2" cy="1707.1" rx="8.5" ry="8.9"/><ellipse cx="667.6" cy="1730.3" rx="8.5" ry="8.9"/><ellipse cx="728.1" cy="1748" rx="8.5" ry="8.9"/><ellipse cx="788.5" cy="1763.9" rx="8.5" ry="8.9"/><ellipse cx="849" cy="1770.9" rx="8.5" ry="8.9"/><ellipse cx="909.4" cy="1773.9" rx="8.5" ry="8.9"/><ellipse cx="969.9" cy="1784.9" rx="8.5" ry="8.9"/><ellipse cx="1030.3" cy="1793.5" rx="8.5" ry="8.9"/><ellipse cx="1090.8" cy="1791.9" rx="8.5" ry="8.9"/><ellipse cx="1151.2" cy="1797.9" rx="8.5" ry="8.9"/><ellipse cx="1211.7" cy="1797.7" rx="8.5" ry="8.9"/><ellipse cx="1272.1" cy="1807" rx="8.5" ry="8.9"/><ellipse cx="1332.6" cy="1812.6" rx="8.5" ry="8.9"/><ellipse cx="1393" cy="1821.9" rx="8.5" ry="8.9"/><ellipse cx="1453.5" cy="1827.5" rx="8.5" ry="8.9"/></g>
</g>
<g font-family="Liberation Sans, Arial, sans-serif" font-weight="bold" font-size="50" fill="#000">
<text transform="translate(204.9,933) scale(0.955,1.045)" text-anchor="end">0</text>
<text transform="translate(204.9,849.2) scale(0.955,1.045)" text-anchor="end">10</text>
<text transform="translate(204.9,765.4) scale(0.955,1.045)" text-anchor="end">20</text>
<text transform="translate(204.9,681.5) scale(0.955,1.045)" text-anchor="end">30</text>
<text transform="translate(204.9,597.8) scale(0.955,1.045)" text-anchor="end">40</text>
<text transform="translate(204.9,513.9) scale(0.955,1.045)" text-anchor="end">50</text>
<text transform="translate(204.9,430.1) scale(0.955,1.045)" text-anchor="end">60</text>
<text transform="translate(204.9,346.3) scale(0.955,1.045)" text-anchor="end">70</text>
<text transform="translate(204.9,262.5) scale(0.955,1.045)" text-anchor="end">80</text>
<text transform="translate(204.9,178.7) scale(0.955,1.045)" text-anchor="end">90</text>
<text transform="translate(204.9,94.9) scale(0.955,1.045)" text-anchor="end">100</text>
<text transform="translate(204.9,1855.7) scale(0.955,1.045)" text-anchor="end">0</text>
<text transform="translate(204.9,1771.8) scale(0.955,1.045)" text-anchor="end">10</text>
<text transform="translate(204.9,1687.9) scale(0.955,1.045)" text-anchor="end">20</text>
<text transform="translate(204.9,1604) scale(0.955,1.045)" text-anchor="end">30</text>
<text transform="translate(204.9,1520) scale(0.955,1.045)" text-anchor="end">40</text>
<text transform="translate(204.9,1436.2) scale(0.955,1.045)" text-anchor="end">50</text>
<text transform="translate(204.9,1352.2) scale(0.955,1.045)" text-anchor="end">60</text>
<text transform="translate(204.9,1268.4) scale(0.955,1.045)" text-anchor="end">70</text>
<text transform="translate(204.9,1184.5) scale(0.955,1.045)" text-anchor="end">80</text>
<text transform="translate(204.9,1100.5) scale(0.955,1.045)" text-anchor="end">90</text>
<text transform="translate(204.9,1016.7) scale(0.955,1.045)" text-anchor="end">100</text>
<text transform="translate(244.2,1961) scale(0.955,1.045)" text-anchor="middle">0</text>
<text transform="translate(445.7,1961) scale(0.955,1.045)" text-anchor="middle">10</text>
<text transform="translate(647.2,1961) scale(0.955,1.045)" text-anchor="middle">20</text>
<text transform="translate(848.7,1961) scale(0.955,1.045)" text-anchor="middle">30</text>
<text transform="translate(1050.2,1961) scale(0.955,1.045)" text-anchor="middle">40</text>
<text transform="translate(1251.7,1961) scale(0.955,1.045)" text-anchor="middle">50</text>
<text transform="translate(1453.2,1961) scale(0.955,1.045)" text-anchor="middle">60</text>
</g>
<g font-family="Liberation Serif, Times New Roman, serif" font-weight="bold" fill="#000">
<text x="848.8" y="2078" text-anchor="middle" font-size="80">HCD Energy (%)</text>
<text transform="translate(97,930) rotate(-90) scale(0.978,1)" text-anchor="middle" font-size="82">Relative Ion Intensity (%)</text>
<text x="262" y="127.5" font-size="81">(a)</text>
<text x="267.5" y="1062.5" font-size="81">(b)</text>
</g>
<g font-family="Liberation Sans, Arial, sans-serif" font-weight="bold" font-size="40" fill="#000">
<line x1="1129" y1="72.7" x2="1227" y2="72.7" stroke="#00FF00" stroke-width="6.5"/><ellipse cx="1178" cy="72.7" rx="8.5" ry="8.9" fill="#00FF00"/><text x="1235.4" y="86.8"><tspan font-style="italic">m/z</tspan> 149.02</text>
<line x1="1129" y1="124.8" x2="1227" y2="124.8" stroke="#0000FF" stroke-width="6.5"/><ellipse cx="1178" cy="124.8" rx="8.5" ry="8.9" fill="#0000FF"/><text x="1235.4" y="138.9"><tspan font-style="italic">m/z</tspan> 163.01</text>
<line x1="1129" y1="176.8" x2="1227" y2="176.8" stroke="#00FFFF" stroke-width="6.5"/><ellipse cx="1178" cy="176.8" rx="8.5" ry="8.9" fill="#00FFFF"/><text x="1235.4" y="190.9"><tspan font-style="italic">m/z</tspan> 177.04</text>
<line x1="1129" y1="228.9" x2="1227" y2="228.9" stroke="#808000" stroke-width="6.5"/><ellipse cx="1178" cy="228.9" rx="8.5" ry="8.9" fill="#808000"/><text x="1235.4" y="243"><tspan font-style="italic">m/z</tspan> 219.08</text>
<line x1="1129" y1="281" x2="1227" y2="281" stroke="#960000" stroke-width="6.5"/><ellipse cx="1178" cy="281" rx="8.5" ry="8.9" fill="#960000"/><text x="1235.4" y="295.1"><tspan font-style="italic">m/z</tspan> 261.12</text>
<line x1="1129" y1="333.1" x2="1227" y2="333.1" stroke="#008080" stroke-width="6.5"/><ellipse cx="1178" cy="333.1" rx="8.5" ry="8.9" fill="#008080"/><text x="1235.4" y="347.2"><tspan font-style="italic">m/z</tspan> 285.13</text>
<line x1="1129" y1="385.1" x2="1227" y2="385.1" stroke="#FF0080" stroke-width="6.5"/><ellipse cx="1178" cy="385.1" rx="8.5" ry="8.9" fill="#FF0080"/><text x="1235.4" y="399.2"><tspan font-style="italic">m/z</tspan> 341.12</text>
</g>
<g font-family="Liberation Sans, Arial, sans-serif" font-weight="bold" font-size="40" fill="#000">
<line x1="1120" y1="1000.5" x2="1216" y2="1000.5" stroke="#00FF00" stroke-width="6.5"/><ellipse cx="1168" cy="1000.5" rx="8.5" ry="8.9" fill="#00FF00"/><text x="1224.7" y="1014.6"><tspan font-style="italic">m/z</tspan> 149.02</text>
<line x1="1120" y1="1052.6" x2="1216" y2="1052.6" stroke="#0000FF" stroke-width="6.5"/><ellipse cx="1168" cy="1052.6" rx="8.5" ry="8.9" fill="#0000FF"/><text x="1224.7" y="1066.7"><tspan font-style="italic">m/z</tspan> 163.01</text>
<line x1="1120" y1="1104.6" x2="1216" y2="1104.6" stroke="#00FFFF" stroke-width="6.5"/><ellipse cx="1168" cy="1104.6" rx="8.5" ry="8.9" fill="#00FFFF"/><text x="1224.7" y="1118.7"><tspan font-style="italic">m/z</tspan> 177.04</text>
<line x1="1120" y1="1156.7" x2="1216" y2="1156.7" stroke="#808000" stroke-width="6.5"/><ellipse cx="1168" cy="1156.7" rx="8.5" ry="8.9" fill="#808000"/><text x="1224.7" y="1170.8"><tspan font-style="italic">m/z</tspan> 219.08</text>
<line x1="1120" y1="1208.8" x2="1216" y2="1208.8" stroke="#6E2300" stroke-width="6.5"/><ellipse cx="1168" cy="1208.8" rx="8.5" ry="8.9" fill="#6E2300"/><text x="1224.7" y="1222.9"><tspan font-style="italic">m/z</tspan> 261.12</text>
<line x1="1120" y1="1260.8" x2="1216" y2="1260.8" stroke="#008080" stroke-width="6.5"/><ellipse cx="1168" cy="1260.8" rx="8.5" ry="8.9" fill="#008080"/><text x="1224.7" y="1274.9"><tspan font-style="italic">m/z</tspan> 285.13</text>
<line x1="1120" y1="1312.9" x2="1216" y2="1312.9" stroke="#FF0080" stroke-width="6.5"/><ellipse cx="1168" cy="1312.9" rx="8.5" ry="8.9" fill="#FF0080"/><text x="1224.7" y="1327"><tspan font-style="italic">m/z</tspan> 341.12</text>
</g>
</svg>
</body></html>
